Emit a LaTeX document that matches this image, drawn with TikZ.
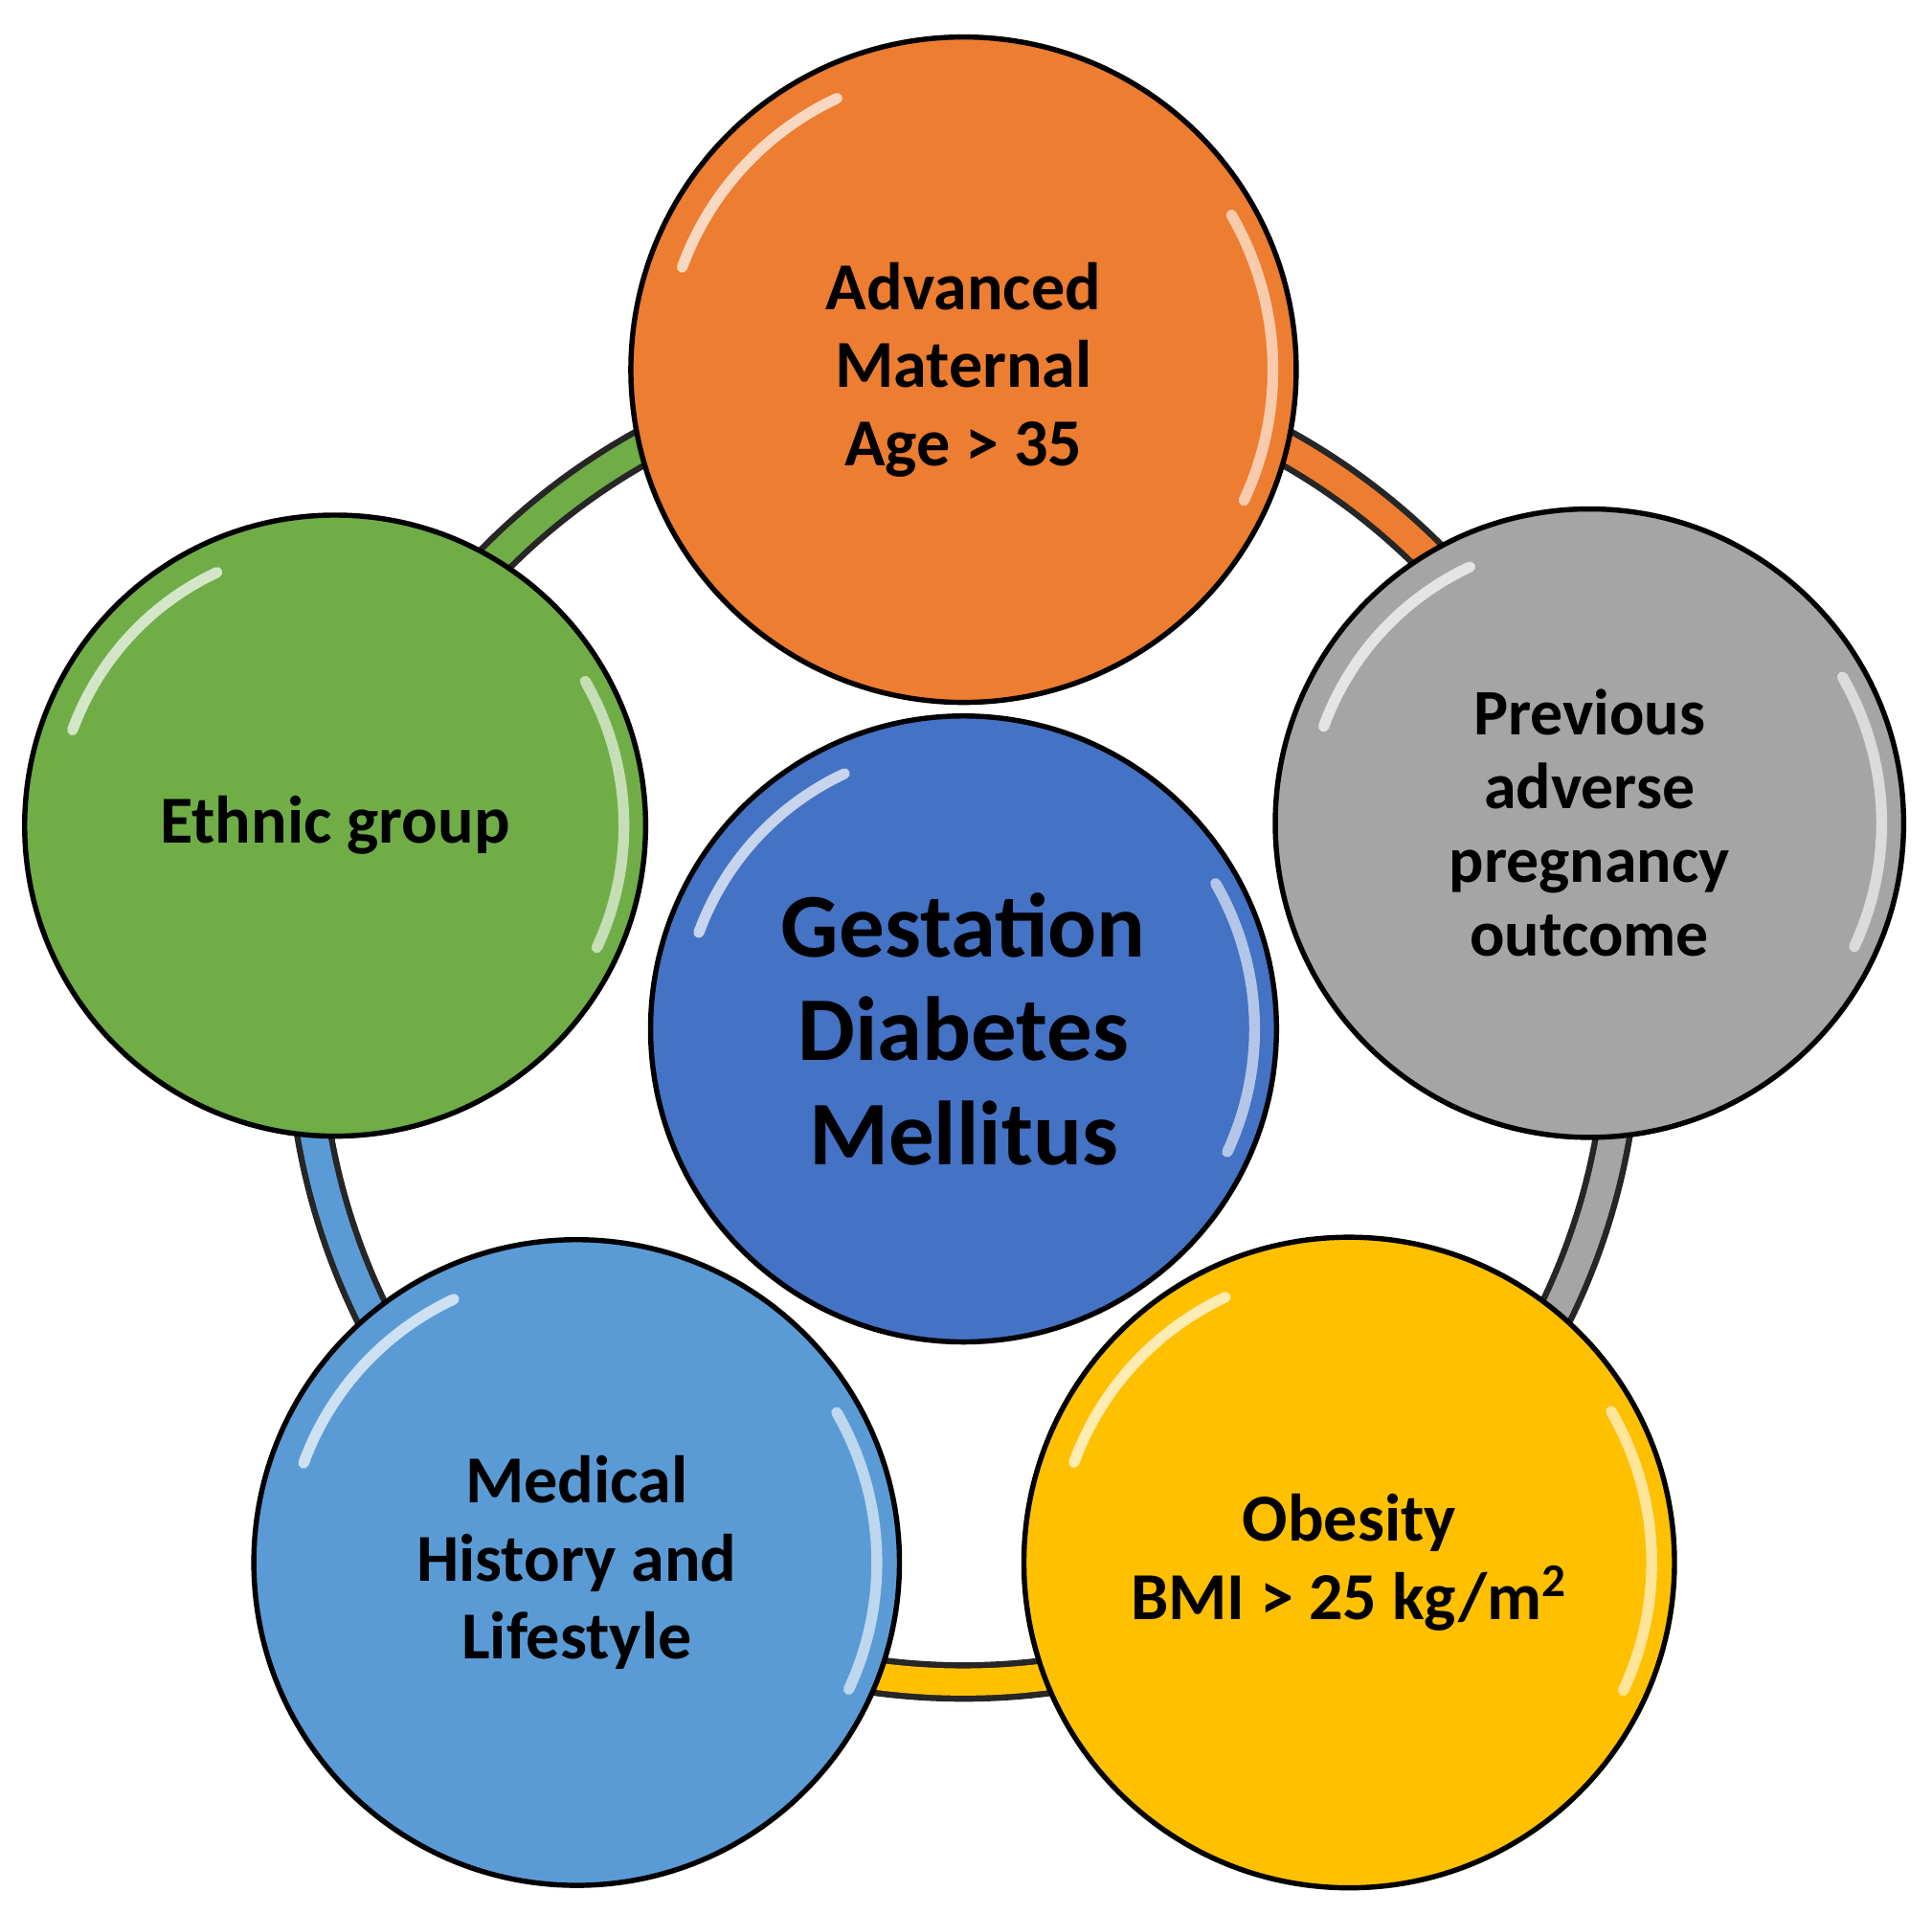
\documentclass[tikz,border=0pt]{standalone}
\usepackage{fontspec}
\setmainfont{Carlito}
\begin{document}
\begin{tikzpicture}[x=0.01cm,y=-0.01cm,
  bub/.style={circle,draw=black,line width=1.2pt,align=center,font=\bfseries\fontsize{15}{18}\selectfont,text=black,inner sep=0pt},
  ringout/.style={line width=0.32cm,draw=black!85},
  ringin/.style={line width=0.22cm}]
\definecolor{cOr}{HTML}{ED7D31}\definecolor{cGr}{HTML}{A5A5A5}
\definecolor{cYe}{HTML}{FFC000}\definecolor{cBl}{HTML}{5B9BD5}
\definecolor{cGn}{HTML}{70AD47}\definecolor{cCe}{HTML}{4472C4}
\useasboundingbox (0,0) rectangle (1568,1553);
\coordinate (rc) at (782,830);
% ring (y axis flipped: use negative angles for upward)
\foreach \a/\b/\c in {-90/-17.7/cOr,-17.7/54.5/cGr,54.5/125.6/cYe,125.6/197.4/cBl,197.4/270/cGn}{
  \draw[ringout] ([shift={(\a:535)}]rc) arc[start angle=\a,end angle=\b,radius=535];
  \draw[ringin,draw=\c] ([shift={(\a:535)}]rc) arc[start angle=\a,end angle=\b,radius=535];
}
\foreach \n/\x/\y/\r/\c in {a/782/300/270/cOr,b/1290/668/255/cGr,c/1095/1268/264/cYe,d/468/1268/262/cBl,e/272/670/252/cGn,f/782/835/254/cCe}{
  \node[bub,fill=\c,minimum size=2*\r*0.01cm] (\n) at (\x,\y) {};
  \draw[white,opacity=0.7,line width=2.5pt,line cap=round] ([shift={(200:\r*0.9)}]\x,\y) arc[start angle=200,end angle=245,radius=\r*0.9];
  \draw[white,opacity=0.6,line width=2.5pt,line cap=round] ([shift={(-30:\r*0.93)}]\x,\y) arc[start angle=-30,end angle=25,radius=\r*0.93];
}
\node[align=center,font=\bfseries\fontsize{15.5}{18}\selectfont] (ta) at (782,300) {Advanced\\Maternal\\Age > 35};
\node[align=center,font=\bfseries\fontsize{15}{17}\selectfont] (tb) at (1290,668) {Previous\\adverse\\pregnancy\\outcome};
\node[align=center,font=\bfseries\fontsize{15.5}{18}\selectfont] (tc) at (1095,1268) {Obesity\\BMI > 25 kg/m\textsuperscript{2}};
\node[align=center,font=\bfseries\fontsize{15.5}{18}\selectfont] (td) at (468,1268) {Medical\\History and\\Lifestyle};
\node[align=center,font=\bfseries\fontsize{15.5}{18}\selectfont] (te) at (272,670) {Ethnic group};
\node[align=center,font=\bfseries\fontsize{21}{24}\selectfont] (tf) at (782,835) {Gestation\\Diabetes\\Mellitus};
\end{tikzpicture}
\end{document}
